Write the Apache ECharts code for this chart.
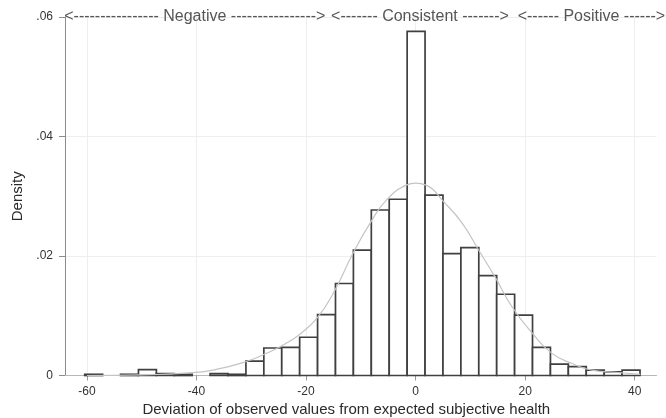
<!DOCTYPE html>
<html>
<head>
<meta charset="utf-8">
<script src="https://cdn.jsdelivr.net/npm/echarts@6/dist/echarts.min.js"></script>
<style>
  html, body { margin: 0; padding: 0; background: #fff; }
  #chart { width: 666px; height: 418px; }
</style>
</head>
<body>
<div id="chart"></div>
<script>
// histogram: left edge of the first bin and the bin width
const binStart = -60.4
const binWidth = 3.27
// density of each bin (left to right)
const densities = [
  0.0002, 0, 0.0002, 0.0010, 0.0003, 0.0002, 0, 0.0003, 0.0002,
  0.0024, 0.0046, 0.0047, 0.0064, 0.0102, 0.0154, 0.0210, 0.0277, 0.0295,
  0.0576,
  0.0302, 0.0204, 0.0214, 0.0167, 0.0136, 0.0101, 0.0047, 0.0019, 0.0015,
  0.0009, 0.0006, 0.0009
]
// normal density overlay
const curveX = [-60, -50, -42, -37, -31, -27, -24, -21, -18, -15, -11.4, -8.3, -5.3, -1.6, 0,
  1.8, 5.4, 8.5, 11.5, 14.5, 17.6, 21.3, 24.9, 28.6, 32.2, 37, 41]
const curveY = [0, 0.0001, 0.0004, 0.0009, 0.0023, 0.0038, 0.0052, 0.0070, 0.0096, 0.0138, 0.0205, 0.0255, 0.0294, 0.0319, 0.0322,
  0.0319, 0.0288, 0.0255, 0.0210, 0.0165, 0.0115, 0.0071, 0.0037, 0.0020, 0.0009, 0.0005, 0.0002]
const xTicks = [-60, -40, -20, 0, 20, 40]
const bandLabels = [
  '<---------------- Negative ---------------->',
  '<------- Consistent ------->',
  '<------ Positive ------>'
]
const bandCenters = [-40.3, 0.8, 32.1]

const font = 'Liberation Sans, Arial, sans-serif'
const chart = echarts.init(document.getElementById('chart'))

const bins = densities.map((d, i) => [binStart + i * binWidth, binStart + (i + 1) * binWidth, d])

chart.setOption({
  animation: false,
  textStyle: { fontFamily: font },
  grid: { left: 65, right: 9.4, top: 17, bottom: 42.5, outerBoundsMode: 'none', containLabel: false },
  xAxis: {
    type: 'value',
    min: -64,
    max: 44,
    name: 'Deviation of observed values from expected subjective health',
    nameLocation: 'middle',
    nameGap: 26,
    nameTextStyle: { fontSize: 15, color: '#2a2a2a', padding: [0, 29, 0, 0] },
    axisLine: { show: true, lineStyle: { color: '#b8b8b8' } },
    axisTick: { show: true, length: 5, customValues: xTicks, lineStyle: { color: '#999' } },
    axisLabel: { customValues: xTicks, fontSize: 12, color: '#333', margin: 10 },
    splitLine: { show: true, lineStyle: { color: '#eeeeee' } }
  },
  yAxis: {
    type: 'value',
    min: 0,
    max: 0.06,
    interval: 0.02,
    name: 'Density',
    nameLocation: 'middle',
    nameGap: 39,
    nameTextStyle: { fontSize: 15, color: '#2a2a2a' },
    axisLine: { show: true, onZero: false, lineStyle: { color: '#8c8c8c' } },
    axisTick: { show: true, length: 6, lineStyle: { color: '#8c8c8c' } },
    axisLabel: {
      fontSize: 12,
      color: '#333',
      margin: 12,
      formatter: v => (v === 0 ? '0' : v.toFixed(2).replace(/^0/, ''))
    },
    splitLine: { show: true, lineStyle: { color: '#eeeeee' } }
  },
  series: [
    {
      type: 'custom',
      name: 'bins',
      data: bins,
      encode: { x: [0, 1], y: 2 },
      renderItem: function(params, api) {
        if (!api.value(2)) return null
        const top = api.coord([api.value(0), api.value(2)])
        const bottom = api.coord([api.value(1), 0])
        return {
          type: 'rect',
          shape: { x: top[0], y: top[1], width: bottom[0] - top[0], height: bottom[1] - top[1] },
          style: { fill: '#fff', stroke: '#404040', lineWidth: 1.7 }
        }
      },
      z: 2
    },
    {
      type: 'line',
      name: 'normal',
      data: curveX.map((x, i) => [x, curveY[i]]),
      smooth: true,
      showSymbol: false,
      lineStyle: { color: '#c4c4c4', width: 1.2 },
      z: 3
    },
    {
      type: 'scatter',
      name: 'bands',
      symbolSize: 0,
      clip: false,
      silent: true,
      data: bandCenters.map((x, i) => ({ value: [x, 0.06], label: { formatter: bandLabels[i] } })),
      label: { show: true, position: 'inside', fontSize: 16, color: '#2a2a2a' },
      z: 4
    }
  ]
})
</script>
</body>
</html>
